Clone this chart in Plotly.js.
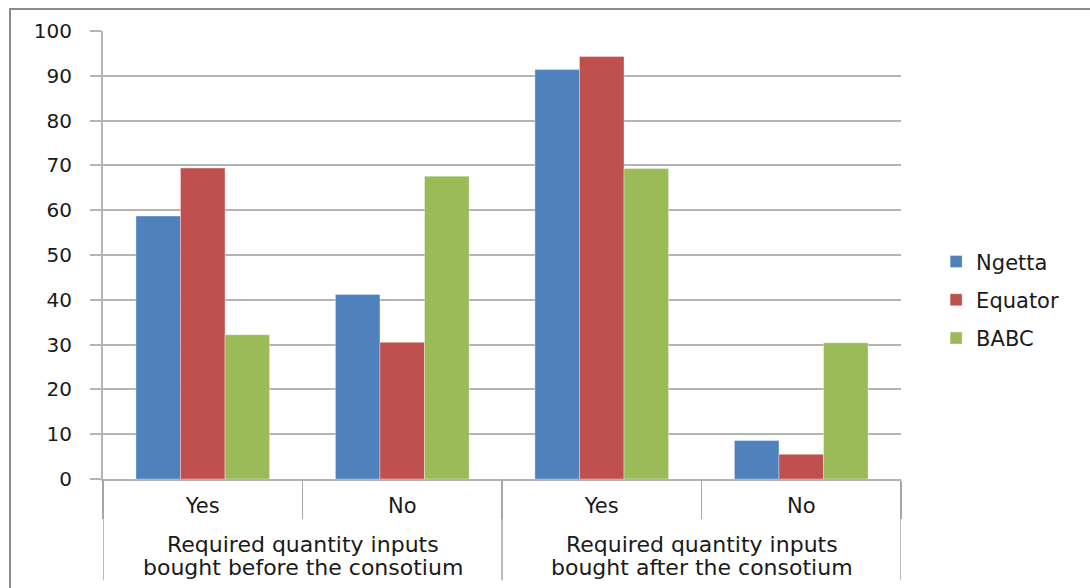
<!DOCTYPE html>
<html>
<head>
<meta charset="utf-8">
<script src="https://cdn.plot.ly/plotly-3.0.1.min.js"></script>
<style>
  html, body { margin: 0; padding: 0; background: #ffffff; }
  #wrap { position: relative; width: 1090px; height: 588px; }
  #chart { width: 1090px; height: 588px; }
  #frame {
    position: absolute; left: 9px; top: 8px; right: 0; bottom: 0;
    border-left: 2px solid #8c8c8c; border-top: 2px solid #8c8c8c;
    pointer-events: none;
  }
</style>
</head>
<body>
<div id="wrap">
  <div id="chart"></div>
  <div id="frame"></div>
</div>
<script>
// Outer grouping (period), two lines each, and inner categories (answer)
const periods = [
  ["Required quantity inputs", "bought before the consotium"],
  ["Required quantity inputs", "bought after the consotium"]
];
const answers = ["Yes", "No", "Yes", "No"];
const slots = [0, 1, 2, 3];            // one slot per answer column

// Share of respondents (%) per consortium
const ngetta  = [58.7, 41.2, 91.4, 8.6];
const equator = [69.4, 30.5, 94.3, 5.5];
const babc    = [32.2, 67.6, 69.3, 30.4];

const seriesNames  = ["Ngetta", "Equator", "BABC"];
const seriesValues = [ngetta, equator, babc];
const seriesColors = ["#4F81BD", "#C0504D", "#9BBB59"];

const traces = seriesNames.map((name, i) => ({
  type: "bar",
  name: name,
  legendgroup: name,
  x: slots,
  y: seriesValues[i],
  marker: { color: seriesColors[i], line: { color: "rgba(255,255,255,0.35)", width: 1 } },
  hoverinfo: "y+name"
}));

const gridGrey = "#b4b4b4";
const sepGrey = "#a6a6a6";
const textCol = "#1a1a1a";
const labelFont = { family: "DejaVu Sans", size: 22, color: textCol };

// Each period spans two answer columns; its label sits under their middle
const perGroup = answers.length / periods.length;
const periodCentres = periods.map((_, g) => g * perGroup + (perGroup - 1) / 2);
const periodEdges = [];
for (let g = 0; g <= periods.length; g++) periodEdges.push(g * perGroup - 0.5);

const dividers = periodEdges.map(xv => ({
  type: "line", xref: "x", yref: "paper",
  x0: xv, x1: xv, y0: 0, y1: -0.226,
  line: { color: sepGrey, width: 1.5 }
}));

const lineY = [-0.146, -0.1975];
const periodLabels = [];
periods.forEach((lines, g) => {
  lines.forEach((txt, k) => {
    periodLabels.push({
      xref: "x", yref: "paper",
      x: periodCentres[g], y: lineY[k],
      xanchor: "center", yanchor: "middle",
      text: txt, showarrow: false,
      font: labelFont
    });
  });
});

const layout = {
  width: 1090,
  height: 588,
  margin: { l: 103, r: 189, t: 31, b: 109 },
  paper_bgcolor: "#ffffff",
  plot_bgcolor: "#ffffff",
  barmode: "group",
  bargap: 0.33,
  bargroupgap: 0,
  showlegend: true,
  legend: {
    x: 1.044, xanchor: "left",
    y: 0.40, yanchor: "middle",
    font: { family: "DejaVu Sans", size: 21, color: textCol },
    traceorder: "grouped",
    tracegroupgap: 8,
    bgcolor: "rgba(0,0,0,0)"
  },
  xaxis: {
    range: [-0.5, 3.5],
    tickmode: "array",
    tickvals: slots,
    ticktext: answers,
    ticks: "",
    ticklabelstandoff: 7,
    minor: {
      tick0: 0.5, dtick: 1,
      ticks: "outside", ticklen: 38, tickwidth: 1.5, tickcolor: sepGrey,
      showgrid: false
    },
    showline: true,
    linecolor: gridGrey,
    linewidth: 2,
    showgrid: false,
    zeroline: false,
    tickfont: { family: "DejaVu Sans", size: 21, color: textCol },
    fixedrange: true
  },
  yaxis: {
    range: [0, 100],
    dtick: 10,
    tick0: 0,
    showgrid: true,
    gridcolor: gridGrey,
    gridwidth: 2,
    zeroline: false,
    showline: true,
    linecolor: gridGrey,
    linewidth: 2,
    ticks: "outside",
    ticklen: 11,
    tickwidth: 2,
    tickcolor: gridGrey,
    ticklabelstandoff: 14,
    tickfont: { family: "DejaVu Sans", size: 20, color: textCol },
    fixedrange: true
  },
  shapes: dividers,
  annotations: periodLabels,
  font: { family: "DejaVu Sans", color: textCol }
};

Plotly.newPlot("chart", traces, layout, { displayModeBar: false, staticPlot: true });
</script>
</body>
</html>
